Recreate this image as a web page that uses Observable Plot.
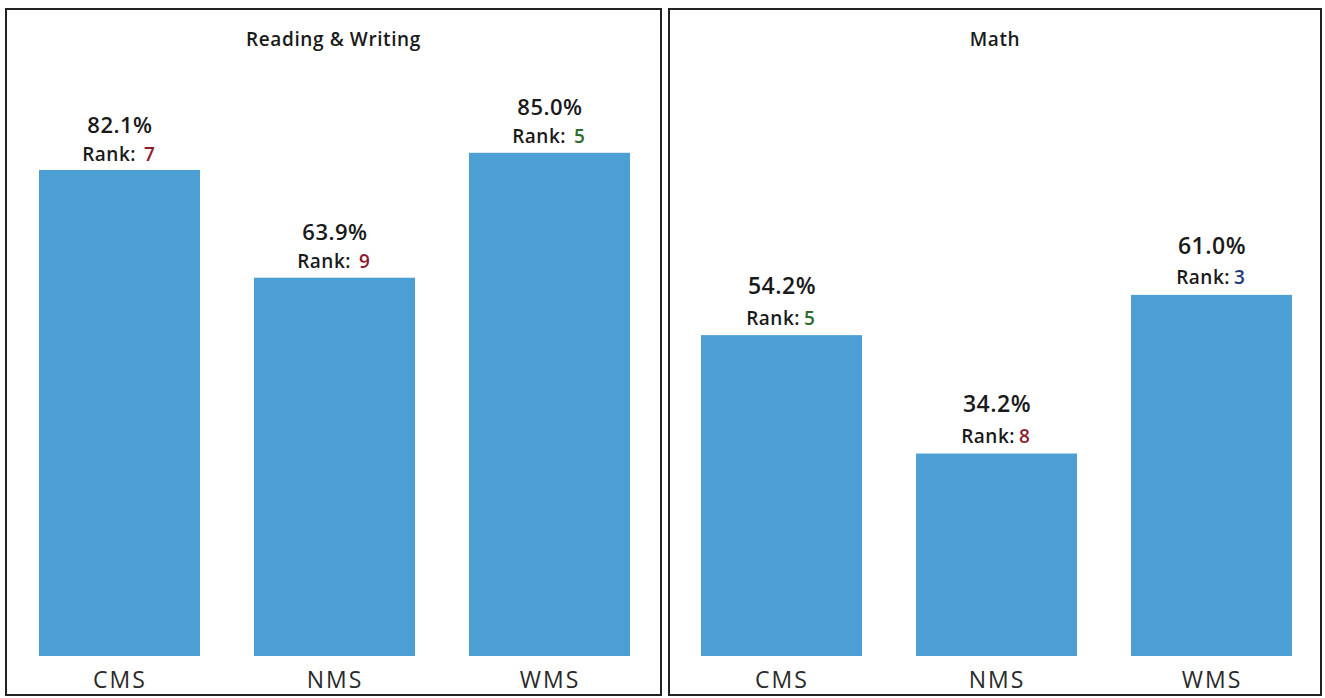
<!DOCTYPE html>
<html>
<head>
<meta charset="utf-8">
<script src="https://cdn.jsdelivr.net/npm/d3@7"></script>
<script src="https://cdn.jsdelivr.net/npm/@observablehq/plot@0.6"></script>
<style>
  html, body { margin: 0; padding: 0; background: #fff; width: 1325px; height: 698px; overflow: hidden; }
  .panel { position: absolute; top: 8px; height: 688px; box-sizing: border-box; border: 2px solid #222; background: #fff; }
  .title { position: absolute; left: 0; right: 0; top: 16px; text-align: center; font-family: "Open Sans", sans-serif; font-weight: 600; font-size: 19px; letter-spacing: 0.6px; color: #1a1a1a; }
  .panel svg { position: absolute; left: 0; top: 0; }
  .panel svg g[aria-label="x-axis tick label"] text { letter-spacing: 2px; }
  .panel svg g[aria-label="text"] text { letter-spacing: 0.5px; }
</style>
</head>
<body>
<div id="left" class="panel" style="left:5px;width:657px;"><div class="title" id="t1"></div></div>
<div id="right" class="panel" style="left:668px;width:654px;"><div class="title" id="t2"></div></div>
<script>
const subjects = ["Reading & Writing", "Math"];
const schools = ["CMS", "NMS", "WMS"];
const readingValues = [82.1, 63.9, 85.0];
const readingRanks = [7, 9, 5];
const mathValues = [54.2, 34.2, 61.0];
const mathRanks = [5, 8, 3];

function rankColor(r) {
  if (r <= 3) return "#1f3a78";
  if (r <= 6) return "#2f6b30";
  return "#8a1c2c";
}

function panel({values, ranks, width, ml, mr, valueSize, valueDy, rankDy, rankEndDx, rankNumDx}) {
  const data = schools.map((s, i) => ({school: s, value: values[i], rank: ranks[i]}));
  return Plot.plot({
    width, height: 684,
    marginTop: 54, marginBottom: 38, marginLeft: ml, marginRight: mr,
    style: {fontFamily: "'Open Sans', sans-serif", background: "transparent", color: "#222"},
    x: {domain: schools, paddingInner: 0.25, paddingOuter: 0.125, label: null},
    y: {domain: [0, 100], axis: null},
    color: {type: "identity"},
    marks: [
      Plot.barY(data, {x: "school", y: "value", fill: "#4b9fd5"}),
      Plot.text(data, {x: "school", y: "value", text: d => d.value.toFixed(1) + "%", dy: valueDy, fontSize: valueSize, fontWeight: 600, fill: "#1a1a1a"}),
      Plot.text(data, {x: "school", y: "value", text: () => "Rank:", textAnchor: "end", dx: rankEndDx, dy: rankDy, fontSize: 19, fontWeight: 600, fill: "#1a1a1a"}),
      Plot.text(data, {x: "school", y: "value", text: d => String(d.rank), textAnchor: "start", dx: rankNumDx, dy: rankDy, fontSize: 19, fontWeight: 600, fill: d => rankColor(d.rank)}),
      Plot.axisX({tickSize: 0, tickPadding: 15, fontSize: 23, fill: "#2a2a2a", label: null})
    ]
  });
}

document.getElementById("t1").textContent = subjects[0];
document.getElementById("t2").textContent = subjects[1];
document.getElementById("left").appendChild(panel({values: readingValues, ranks: readingRanks, width: 653, ml: 5, mr: 3, valueSize: 22, valueDy: -45, rankDy: -16, rankEndDx: 16, rankNumDx: 24}));
document.getElementById("right").appendChild(panel({values: mathValues, ranks: mathRanks, width: 650, ml: 4, mr: 1, valueSize: 23, valueDy: -49, rankDy: -17, rankEndDx: 18, rankNumDx: 22}));
</script>
</body>
</html>
